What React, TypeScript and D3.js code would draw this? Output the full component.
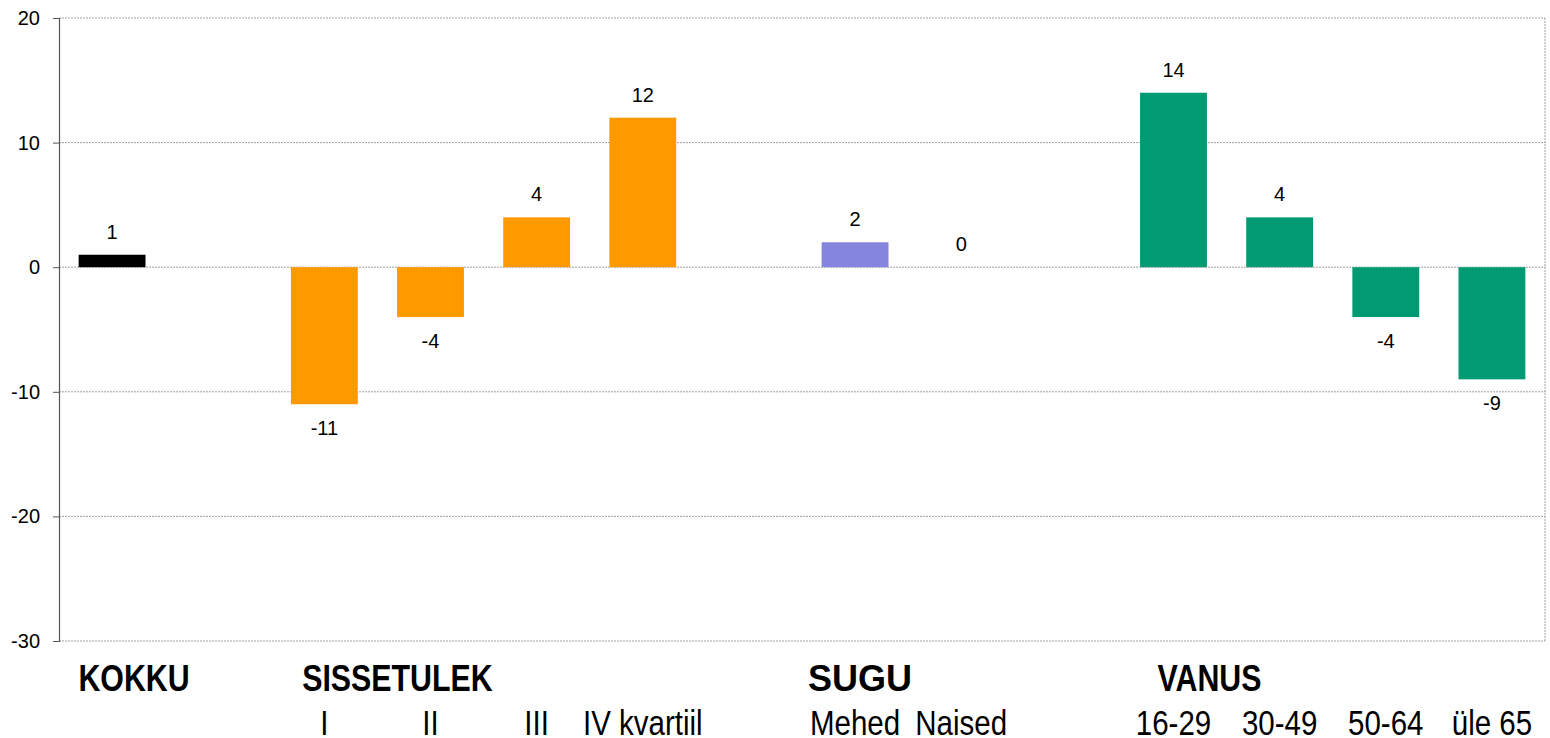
import { useEffect, useRef } from 'react';
import * as d3 from 'd3';

// chart data
const categories = ['KOKKU', '', 'I', 'II', 'III', 'IV kvartiil', '', 'Mehed', 'Naised', '', '16-29', '30-49', '50-64', 'üle 65'];
const values: (number | null)[] = [1, null, -11, -4, 4, 12, null, 2, 0, null, 14, 4, -4, -9];
const groupOf = ['total', '', 'income', 'income', 'income', 'income', '', 'sex', 'sex', '', 'age', 'age', 'age', 'age'];
const groupNames = ['KOKKU', 'SISSETULEK', 'SUGU', 'VANUS'];
const groupKeys = ['total', 'income', 'sex', 'age'];
const yTicks = [20, 10, 0, -10, -20, -30];

const colors: Record<string, string> = {
  total: '#000000',
  income: '#ff9900',
  sex: '#8585e0',
  age: '#009b72',
};

const sans = '"Liberation Sans", Arial, sans-serif';
// no narrow face installed, so squeeze the regular one horizontally
const squeeze = 0.82;

export default function App() {
  const svgRef = useRef<SVGSVGElement>(null);

  useEffect(() => {
    if (!svgRef.current) return;

    const width = 1550;
    const height = 738;
    const left = 59;
    const right = 1545;
    const top = 18;
    const bottom = 641;

    const svg = d3.select(svgRef.current);
    svg.selectAll('*').remove();
    svg.attr('width', width).attr('height', height);

    const idx = categories.map((_, i) => i);
    const x = d3
      .scaleBand<number>()
      .domain(idx)
      .range([left, right])
      .paddingInner(0.37)
      .paddingOuter(0.185);
    const y = d3.scaleLinear().domain([-30, 20]).range([bottom, top]);

    // gridlines
    svg
      .append('g')
      .selectAll('line')
      .data(yTicks)
      .join('line')
      .attr('x1', left)
      .attr('x2', right)
      .attr('y1', (d) => y(d))
      .attr('y2', (d) => y(d))
      .attr('stroke', '#a0a0a0')
      .attr('stroke-width', 1)
      .attr('stroke-dasharray', '2 1');

    // right border
    svg
      .append('line')
      .attr('x1', right)
      .attr('x2', right)
      .attr('y1', top)
      .attr('y2', bottom)
      .attr('stroke', '#a0a0a0')
      .attr('stroke-dasharray', '2 1');

    // bars
    const items = idx.filter((i) => values[i] !== null);
    svg
      .append('g')
      .selectAll('rect')
      .data(items)
      .join('rect')
      .attr('x', (i) => x(i)!)
      .attr('width', x.bandwidth())
      .attr('y', (i) => y(Math.max(0, values[i]!)))
      .attr('height', (i) => Math.abs(y(values[i]!) - y(0)))
      .attr('fill', (i) => colors[groupOf[i]]);

    // value labels
    svg
      .append('g')
      .selectAll('text')
      .data(items)
      .join('text')
      .attr('x', (i) => x(i)! + x.bandwidth() / 2)
      .attr('y', (i) => (values[i]! >= 0 ? y(values[i]!) - 16 : y(values[i]!) + 31))
      .attr('text-anchor', 'middle')
      .style('font-family', sans)
      .style('font-size', '20px')
      .attr('fill', '#000')
      .text((i) => String(values[i]));

    // y axis
    const axis = svg
      .append('g')
      .attr('transform', `translate(${left},0)`)
      .call(
        d3
          .axisLeft(y)
          .tickValues(yTicks)
          .tickSize(6)
          .tickPadding(13)
          .tickFormat((d) => String(d))
      );
    axis.select('.domain').attr('stroke', '#555').attr('stroke-width', 1.2);
    axis.selectAll('.tick line').attr('stroke', '#555');
    axis
      .selectAll('.tick text')
      .style('font-family', sans)
      .style('font-size', '20px')
      .attr('fill', '#000');

    // category labels
    svg
      .append('g')
      .selectAll('text')
      .data(idx.filter((i) => categories[i] !== '' && groupOf[i] !== 'total'))
      .join('text')
      .attr('transform', (i) => `translate(${x(i)! + x.bandwidth() / 2},735) scale(${squeeze},1)`)
      .attr('text-anchor', 'middle')
      .style('font-family', sans)
      .style('font-size', '36px')
      .attr('fill', '#000')
      .text((i) => categories[i]);

    // group labels
    const groupShift: Record<string, number> = { total: 22, income: 20 + x.step() * 0.5, sex: 5, age: 36 };
    groupKeys.forEach((g, k) => {
      const first = groupOf.indexOf(g);
      const cx = x(first)! + x.bandwidth() / 2 + groupShift[g];
      const sx = g === 'sex' ? 1 : squeeze;
      svg
        .append('text')
        .attr('transform', `translate(${cx},691) scale(${sx},1)`)
        .attr('text-anchor', 'middle')
        .style('font-family', sans)
        .style('font-size', g === 'sex' ? '36px' : '37px')
        .style('font-weight', 'bold')
        .attr('fill', '#000')
        .text(groupNames[k]);
    });
  }, []);

  return (
    <div style={{ position: 'absolute', left: 0, top: 0 }}>
      <svg ref={svgRef} style={{ display: 'block' }} />
    </div>
  );
}
